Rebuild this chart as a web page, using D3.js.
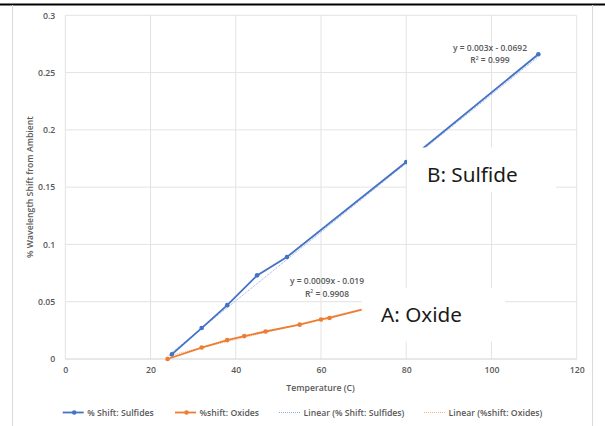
<!DOCTYPE html>
<html>
<head>
<meta charset="utf-8">
<script src="https://cdn.jsdelivr.net/npm/d3@7"></script>
<style>
  body { margin: 0; background: #fff; }
  svg text { font-family: "Open Sans", "Noto Sans", sans-serif; }
</style>
</head>
<body>
<div id="canvas"></div>
<script>
// data
var sulfTemp = [25, 32, 38, 45, 52, 80, 111];
var sulfShift = [0.004, 0.027, 0.047, 0.073, 0.089, 0.172, 0.266];
var oxTemp = [24, 32, 38, 42, 47, 55, 60, 62, 80];
var oxShift = [0, 0.010, 0.0165, 0.020, 0.024, 0.030, 0.0345, 0.0358, 0.053];
var xTicks = [0, 20, 40, 60, 80, 100, 120];
var yTicks = [0, 0.05, 0.1, 0.15, 0.2, 0.25, 0.3];
var sulfFit = [0.003, -0.0692];   // slope, intercept
var oxFit = [0.0009, -0.019];
var legendNames = ["% Shift: Sulfides", "%shift: Oxides", "Linear (% Shift: Sulfides)", "Linear (%shift: Oxides)"];

var width = 605, height = 426;
var blue = "#4472C4", orange = "#ED7D31", grey = "#595959";
var fs = "8.7px";

var svg = d3.select("#canvas").append("svg")
    .attr("width", width)
    .attr("height", height);

var x = d3.scaleLinear().domain([0, 120]).range([65.3, 576.7]);
var y = d3.scaleLinear().domain([0, 0.3]).range([359, 15.3]);

// frame bits
svg.append("line").attr("x1", 0).attr("x2", width).attr("y1", 4.5).attr("y2", 4.5)
    .style("stroke", "#000").style("stroke-width", 2);
svg.append("line").attr("x1", 12.5).attr("x2", 12.5).attr("y1", 5).attr("y2", height)
    .style("stroke", "#d9d9d9");
svg.append("line").attr("x1", 592.5).attr("x2", 592.5).attr("y1", 5).attr("y2", height)
    .style("stroke", "#d9d9d9");

// grid
var grid = svg.append("g");
grid.selectAll(".gx").data(xTicks).enter().append("line")
    .attr("x1", function (d) { return x(d); }).attr("x2", function (d) { return x(d); })
    .attr("y1", y(0)).attr("y2", y(0.3))
    .style("stroke", "#e3e3e3");
grid.selectAll(".gy").data(yTicks).enter().append("line")
    .attr("x1", x(0)).attr("x2", x(120))
    .attr("y1", function (d) { return y(d); }).attr("y2", function (d) { return y(d); })
    .style("stroke", function (d) { return d == 0 ? "#d0d0d0" : "#e3e3e3"; });

// axes (labels only)
var xAxis = svg.append("g").attr("transform", "translate(0," + y(0) + ")")
    .call(d3.axisBottom(x).tickValues(xTicks).tickSize(0).tickPadding(8));
var yAxis = svg.append("g").attr("transform", "translate(" + x(0) + ",0)")
    .call(d3.axisLeft(y).tickValues(yTicks).tickSize(0).tickPadding(10)
        .tickFormat(function (d) { return d3.format("")(+d.toFixed(2)); }));
[xAxis, yAxis].forEach(function (a) {
    a.select(".domain").remove();
    a.selectAll("text").style("font-size", fs).style("font-weight", 600)
        .style("fill", grey).style("font-family", "'Open Sans', sans-serif");
});

svg.append("text").attr("x", 320.5).attr("y", 391)
    .attr("text-anchor", "middle").style("font-size", fs).style("font-weight", 600)
    .style("fill", grey).text("Temperature (C)");
svg.append("text")
    .attr("transform", "translate(33," + (y(0.15)) + ") rotate(-90)")
    .attr("text-anchor", "middle").style("font-size", fs).style("font-weight", 600)
    .style("fill", grey).text("% Wavelength Shift from Ambient");

// trendlines
function fitLine(temps, fit) {
    var t0 = d3.min(temps), t1 = d3.max(temps);
    return [[t0, fit[0] * t0 + fit[1]], [t1, fit[0] * t1 + fit[1]]];
}
var lineGen = d3.line().x(function (d) { return x(d[0]); }).y(function (d) { return y(d[1]); });

svg.append("path").datum(fitLine(sulfTemp, sulfFit)).attr("d", lineGen)
    .style("fill", "none").style("stroke", "#8faadc").style("stroke-width", 1)
    .style("stroke-dasharray", "1,1");
svg.append("path").datum(fitLine(oxTemp, oxFit)).attr("d", lineGen)
    .style("fill", "none").style("stroke", "#f4b183").style("stroke-width", 1)
    .style("stroke-dasharray", "1,1");

// series
var series = [
    { temps: sulfTemp, vals: sulfShift, color: blue },
    { temps: oxTemp, vals: oxShift, color: orange }
];
series.forEach(function (s) {
    var pts = s.temps.map(function (t, i) { return [t, s.vals[i]]; });
    svg.append("path").datum(pts).attr("d", lineGen)
        .style("fill", "none").style("stroke", s.color).style("stroke-width", 1.8);
    svg.selectAll(null).data(pts).enter().append("circle")
        .attr("cx", function (d) { return x(d[0]); })
        .attr("cy", function (d) { return y(d[1]); })
        .attr("r", 2.3).style("fill", s.color);
});

// trend equations
function eq(cx, cy, l1, l2) {
    var g = svg.append("g").style("font-size", "8.5px").style("font-weight", 600).style("fill", grey);
    g.append("text").attr("x", cx).attr("y", cy).attr("text-anchor", "middle").text(l1);
    var t = g.append("text").attr("x", cx).attr("y", cy + 12.5).attr("text-anchor", "middle");
    t.append("tspan").text("R");
    t.append("tspan").attr("dy", -3.5).style("font-size", "5px").text("2");
    t.append("tspan").attr("dy", 3.5).text(" = " + l2);
}
eq(490, 50.5, "y = 0.003x - 0.0692", "0.999");
eq(327, 284, "y = 0.0009x - 0.019", "0.9908");

// white label boxes pasted over the plot
function tag(x0, y0, w, h, tx, ty, label) {
    svg.append("rect").attr("x", x0).attr("y", y0).attr("width", w).attr("height", h).style("fill", "#fff");
    svg.append("text").attr("x", tx).attr("y", ty).style("font-size", "20.7px")
        .style("fill", "#1a1a1a").style("font-family", "'Noto Sans', sans-serif").text(label);
}
tag(407, 147.5, 149, 44.5, 427, 181.5, "B: Sulfide");
tag(361.7, 288, 143.3, 53.7, 381, 322, "A: Oxide");

// legend
var legX = [62.7, 175, 279, 424];
var leg = svg.selectAll(".leg").data(legendNames).enter().append("g")
    .attr("transform", function (d, i) { return "translate(" + legX[i] + ",412.5)"; });
leg.append("line").attr("x1", 0).attr("x2", function (d, i) { return i < 2 ? 21 : 22; })
    .style("stroke", function (d, i) { return [blue, orange, "#8faadc", "#f4b183"][i]; })
    .style("stroke-width", function (d, i) { return i < 2 ? 1.8 : 1; })
    .style("stroke-dasharray", function (d, i) { return i < 2 ? null : "1,1"; });
leg.filter(function (d, i) { return i < 2; }).append("circle")
    .attr("cx", 11.5).attr("r", 2.2)
    .style("fill", function (d, i) { return [blue, orange][i]; });
leg.append("text").attr("x", 24.5).attr("y", 3)
    .style("font-size", fs).style("font-weight", 600).style("fill", grey)
    .text(function (d) { return d; });
</script>
</body>
</html>
